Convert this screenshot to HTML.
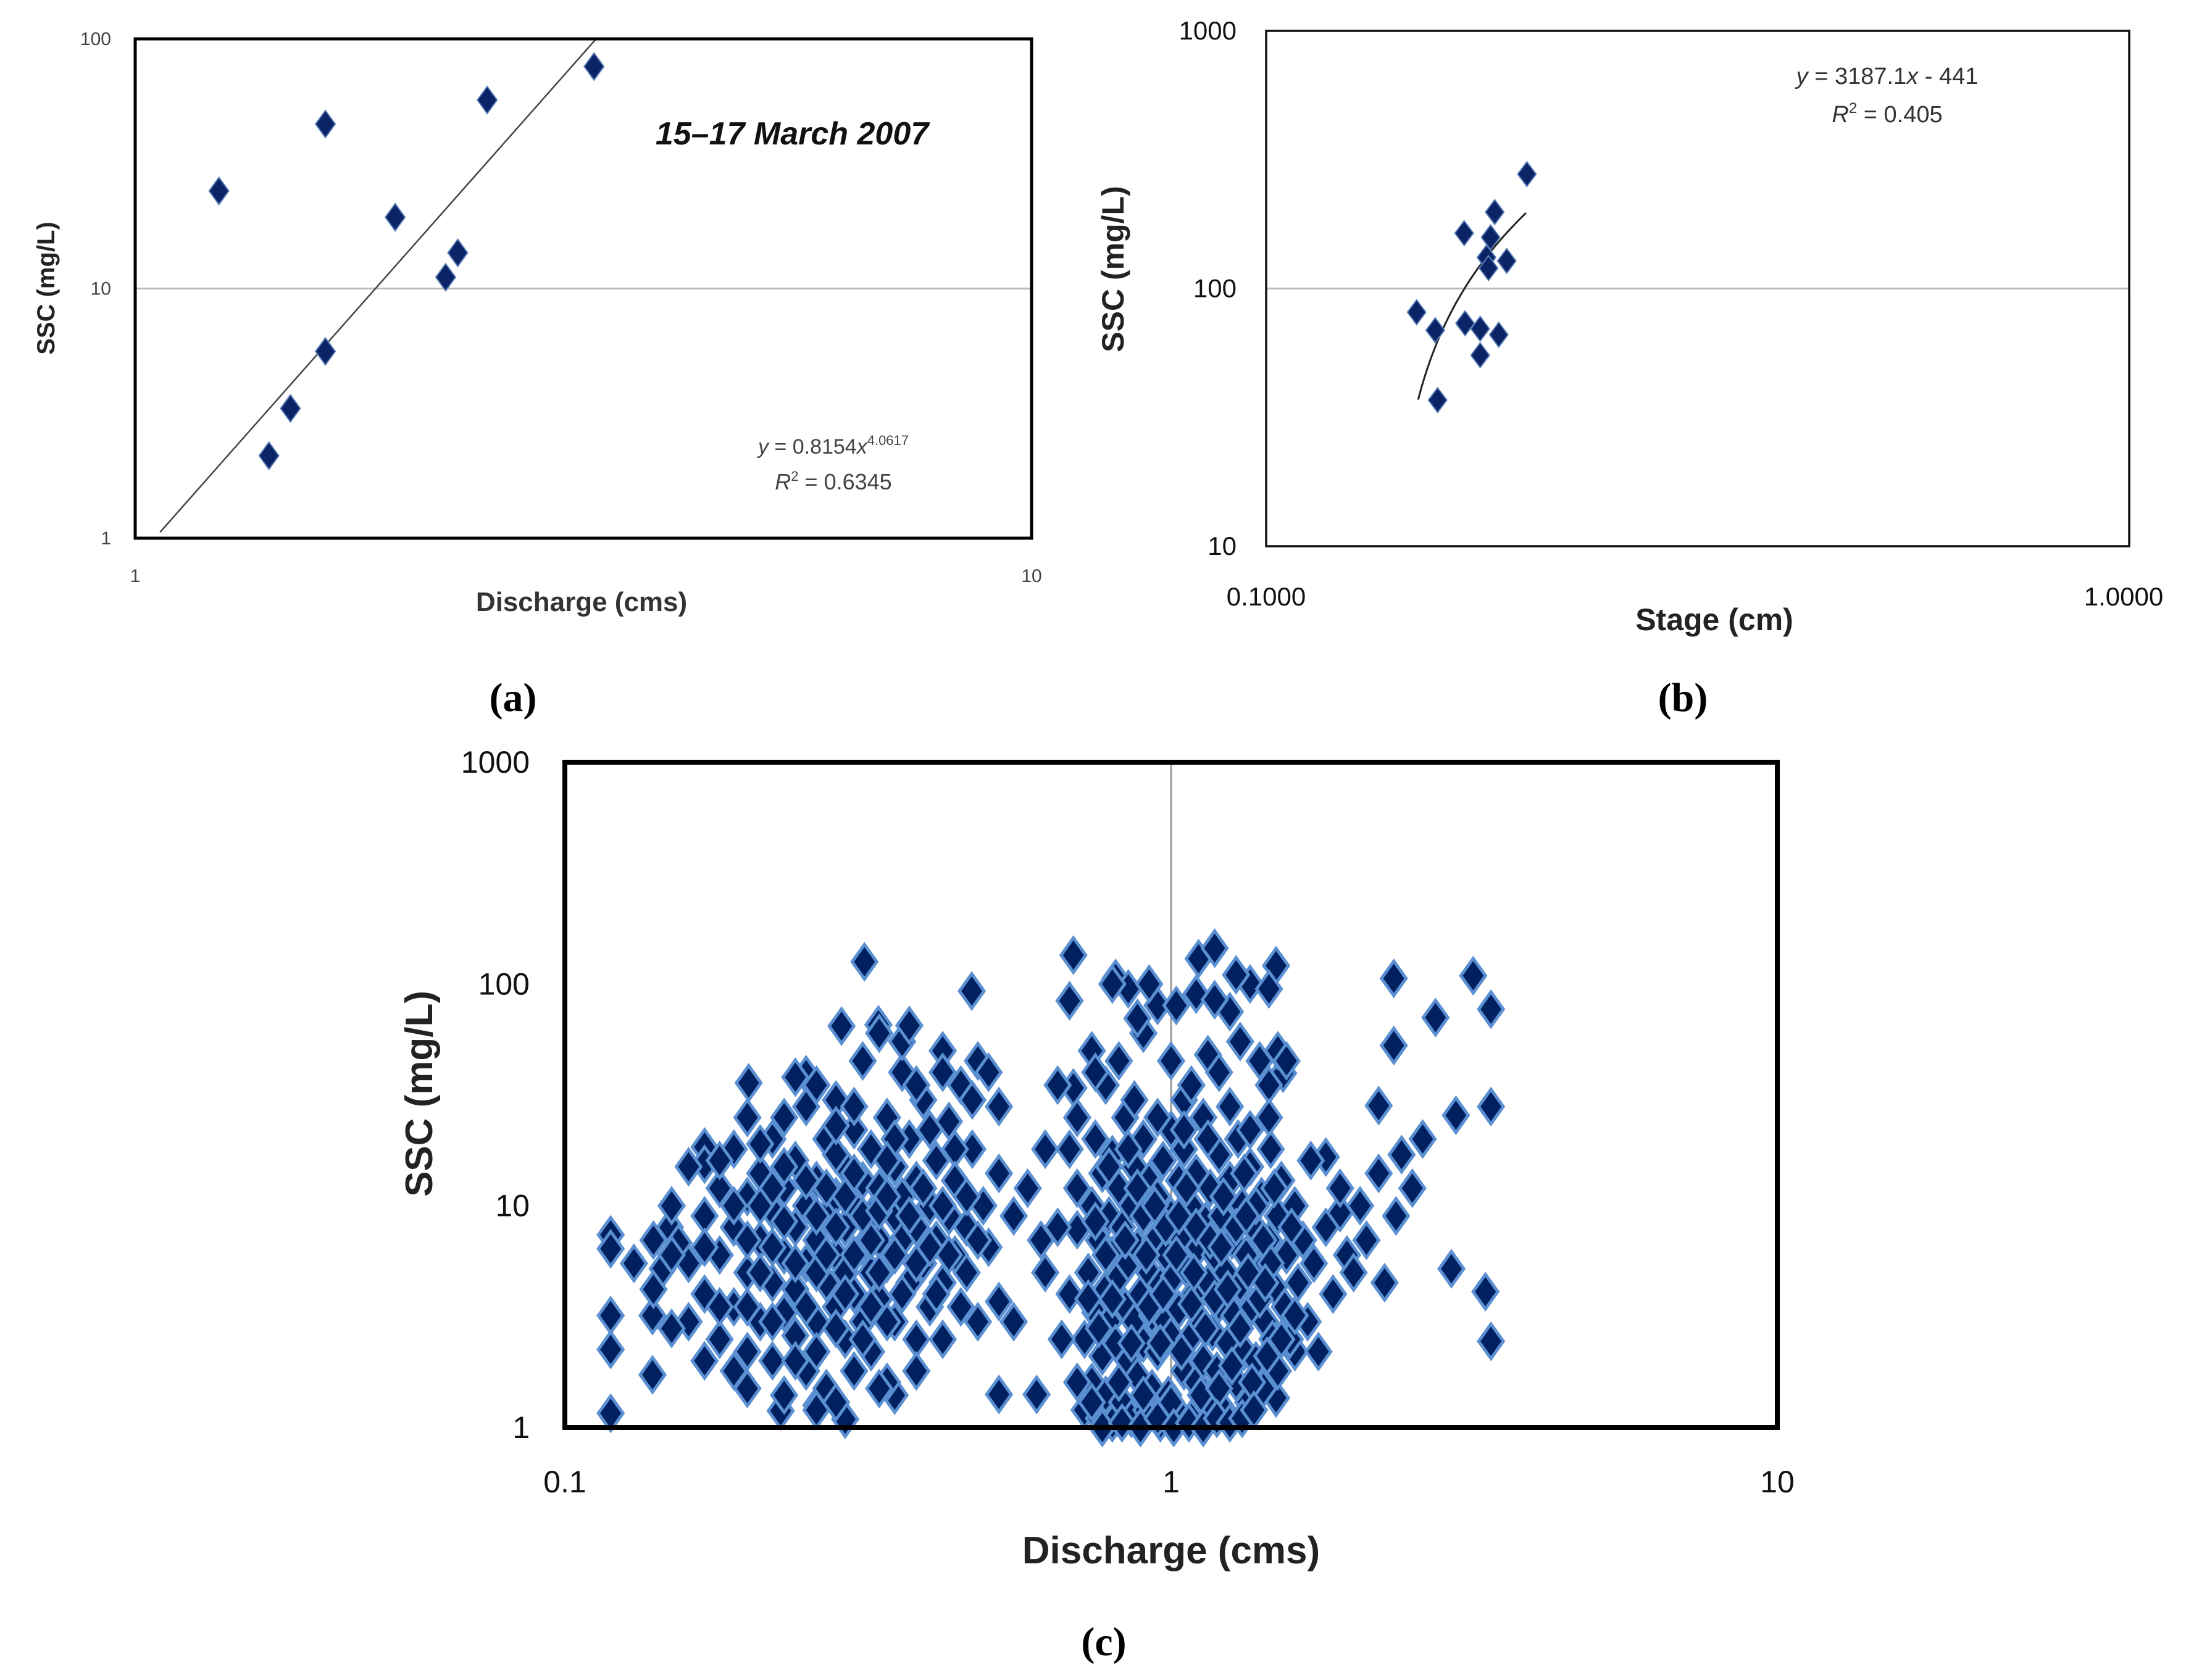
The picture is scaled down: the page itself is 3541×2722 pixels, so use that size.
<!DOCTYPE html>
<html><head><meta charset="utf-8"><style>
html,body{margin:0;padding:0;background:#fff;}
svg{display:block;font-family:"Liberation Sans",sans-serif;}
</style></head><body>
<svg id="fig" width="3541" height="2722" viewBox="0 0 3541 2722" xmlns="http://www.w3.org/2000/svg">
<rect width="3541" height="2722" fill="#fff"/>
<g id="pa"></g>
<g id="pb"></g>
<g id="pc"></g>
<text x="831" y="1152" font-family="Liberation Serif" font-weight="bold" font-size="66" text-anchor="middle">(a)</text>
<text x="2726" y="1152" font-family="Liberation Serif" font-weight="bold" font-size="66" text-anchor="middle">(b)</text>
<text x="1788" y="2682" font-family="Liberation Serif" font-weight="bold" font-size="66" text-anchor="middle">(c)</text>
</svg>
<script>
// ---- Panel a data ----
const aDischarge = [1.24,1.63,1.41,1.49,1.63,1.95,2.22,2.29,2.47,3.25];
const aSSC = [24.6,45.6,2.14,3.31,5.6,19.3,11.1,13.9,56.9,77.5];
const aXTicks = [1,10];
const aYTicks = [1,10,100];
const aFit = {coef:0.8154, exp:4.0617, xmin:1.066, xmax:3.27};
// ---- Panel b data ----
const bStage = [0.1494,0.157,0.158,0.1696,0.170,0.177,0.177,0.180,0.181,0.184,0.182,0.186,0.190,0.2005];
const bSSC = [80.9,68.9,36.9,164,73.3,69.8,55.1,132,120,198,158,66.2,128,278];
const bXTicks = ["0.1000","1.0000"];
const bYTicks = [10,100,1000];
const bFit = {slope:3187.1, icpt:-441, xmin:0.15, xmax:0.2};
// ---- Panel c data ----
const cDischarge = [0.119,0.119,0.119,0.119,0.119,0.1395,0.1395,0.145,0.149,0.154,0.170,0.170,0.201,0.312,0.286,0.329,0.25,0.469,0.26,0.227,0.29,0.35,0.52,0.6,0.52,0.61,0.70,0.69,0.69,0.68,0.81,1.11,1.18,1.49,2.33,3.15,3.37,3.37,3.37,3.3,2.9,2.95,2.2,2.73,2.33,1.53,1.8,1.9,1.6,1.49,
0.16,0.16,0.17,0.17,0.18,0.18,0.18,0.19,0.19,0.19,0.20,0.20,0.20,0.20,0.20,0.21,0.21,0.21,0.22,0.22,0.22,0.22,0.23,0.23,0.23,0.23,0.24,0.24,0.24,0.24,0.25,0.25,0.25,0.25,0.26,0.26,0.26,0.26,0.27,0.27,0.27,0.27,0.28,0.28,0.28,0.28,0.29,0.29,0.29,0.29,0.30,0.30,0.30,0.30,0.31,0.31,0.31,0.32,0.32,0.32,0.32,0.33,0.33,0.33,0.34,0.34,0.34,0.35,0.35,0.35,0.36,0.36,0.36,0.37,0.37,0.38,0.38,0.38,0.39,0.39,0.40,0.40,0.41,0.41,0.42,0.42,0.43,0.43,0.44,0.45,0.45,0.46,0.46,0.47,0.48,0.48,0.49,0.50,0.50,0.52,0.52,0.55,0.13,0.14,0.14,0.15,0.15,0.15,0.16,0.17,0.18,0.19,0.21,0.23,0.26,0.28,0.30,0.31,0.33,0.36,0.38,0.40,0.44,0.47,0.37,0.42,0.24,0.26,0.28,0.33,0.38,0.42,0.45,0.55,0.58,0.62,0.62,0.65,
0.72,0.72,0.73,0.74,0.74,0.75,0.75,0.76,0.76,0.77,0.77,0.78,0.78,0.79,0.79,0.8,0.8,0.8,0.81,0.82,0.82,0.83,0.83,0.84,0.84,0.85,0.85,0.86,0.86,0.87,0.87,0.88,0.88,0.89,0.9,0.9,0.9,0.91,0.92,0.92,0.93,0.93,0.94,0.95,0.95,0.96,0.96,0.97,0.98,0.98,0.99,1.0,1.0,1.0,1.01,1.02,1.03,1.03,1.04,1.05,1.05,1.06,1.07,1.08,1.08,1.09,1.1,1.1,1.11,1.12,1.13,1.13,1.14,1.15,1.15,1.16,1.17,1.18,1.19,1.2,1.2,1.21,1.22,1.23,1.24,1.25,1.26,1.27,1.28,1.29,1.3,1.31,1.32,1.33,1.34,1.35,1.36,1.37,1.38,1.4,1.41,1.42,1.43,1.45,1.46,1.47,1.48,1.5,1.5,1.52,1.54,1.55,1.57,1.6,1.62,1.65,1.68,1.7,1.72,1.75,1.8,1.85,1.9,1.95,2.0,2.05,2.1,2.2,2.25,2.35,2.4,2.5,2.6,0.78,0.82,0.9,0.95,1.0,1.05,1.1,1.15,1.2,1.25,1.3,1.35,1.4,1.45,1.5,1.55,0.85,0.88,1.02,1.18,0.74,0.7,0.65,0.68,0.7,0.68,0.66,0.7,0.75,0.8,0.92,1.28,1.45,0.87,1.08,
0.74,0.76,0.78,0.8,0.82,0.84,0.86,0.88,0.9,0.92,0.94,0.96,0.98,1.0,1.02,1.04,1.06,1.08,1.1,1.12,1.14,1.16,1.18,1.2,1.22,1.24,1.26,1.28,1.3,1.32,1.34,1.36,1.38,1.4,1.42,1.44,1.46,1.48,0.79,0.85,0.95,1.05,1.15,1.25,1.35,1.45,0.77,0.83,0.89,0.95,1.01,1.07,1.13,1.19,1.25,1.31,1.37,0.73,0.75,0.91,0.97,1.03,1.09,1.21,1.33,1.43,1.52,1.58,1.6,
0.17,0.18,0.19,0.2,0.2,0.21,0.21,0.22,0.22,0.23,0.23,0.24,0.24,0.25,0.25,0.26,0.26,0.27,0.27,0.28,0.28,0.29,0.29,0.3,0.3,0.31,0.31,0.32,0.32,0.33,0.33,0.34,0.34,0.35,0.35,0.36,0.37,0.38,0.39,0.4,0.41,0.42,0.43,0.44,0.46,0.48,0.34,0.28,0.22];
const cSSC = [7.4,6.4,3.2,2.25,1.16,1.73,3.2,5.2,8.0,6.8,18.4,15.4,35.8,126,64.6,65.5,39,93,1.26,1.19,1.09,1.4,1.41,1.41,3.7,7.0,7.8,34,135,84,106,130,145,121,106,109,77,28,2.45,4.1,5.2,25.6,28.3,70.6,52.8,39.6,16.6,9.3,2.2,1.36,
3.0,5.5,9,4,2.5,6,12,3.5,8,18,1.5,2.2,5,11,25,3,7,14,4.5,2,9.5,20,1.4,6,3.3,12,2.6,8,4.2,16,1.8,5.5,10,28,3.0,7,13,2.2,4.5,9,20,1.5,6,3.5,11,30,2.5,8,15,5,4,10,1.8,22,6.5,3,13,9,2.2,5,18,7,12,3.8,25,5.5,1.6,9,15,3,7,40,11,4.5,20,8,2.5,13,5.5,30,10,3.5,7,16,50,4.5,9,24,6,12,35,5,8,18,45,3,10,6.5,40,14,28,9,5.5,4.2,7,2.8,6,10,15,2.0,16,1.8,19,25,35,17,28,45,60,55,35,22,18,30,65,40,38,1.2,1.3,1.5,1.8,2.5,3.5,3.0,12,18,5,8,
1.2,2.5,5,1.6,10,3.3,20,1.1,7,2.1,14,4.2,1.4,9,3,1.05,6,17,2.4,4.8,12,1.3,8,3.5,25,2,5.5,10,1.1,3,15,6.5,1.7,4,2.4,9,20,1.2,5,13,3.2,1.5,7,2.2,11,4.4,1.05,16,3,6,1.4,9,2.6,22,4.8,1.2,13,3.4,7,1.8,18,5.2,2.5,10,1.1,4,14,1.6,6.5,3,25,2,8.5,1.3,4.5,12,2.7,6,1.8,17,3.6,9,1.2,5,2.4,13,7,3.2,1.6,20,4.4,10,2.2,6,1.3,15,3.5,8,2,5,11,1.5,3,7,18,2.5,4.3,9,1.8,13,3.5,6,2.5,10,4.5,7,3,16,5.5,2.2,8,4,12,6,5,10,7,14,4.5,9,17,12,20,35,45,60,80,45,30,90,48,40,75,55,100,45,35,50,45,95,70,80,85,50,25,35,18,12,4,2.5,1.6,40,100,100,110,95,30,35,
1.3,2.8,6,3.8,1.6,7,2.4,12,1.4,3.5,10,2.4,8,1.3,6,2.2,12,3.6,8,1.4,2.8,7,3.8,1.5,11,4.2,1.9,8,2.8,14,5,1.6,10,3.8,7,2.1,5.5,12,15,18,25,22,20,28,22,25,1.0,1.05,1.0,1.1,1.0,1.05,1.0,1.1,1.05,1.1,1.2,3.8,8.5,6,4,9,5,6.5,9,4.5,2.5,8,3.2,
6.5,3.5,10,7,3.5,5,10,3,6.5,8.5,15,5.5,2,3.5,13,5,9,6,12,2.8,8,4,11,6,14,2.5,9,7,3.5,5,9.5,3,11,6,20,4,9,5.5,12,6.5,4,10,6,13,11,7,16,23,12];
const cXTicks = ["0.1","1","10"];
const cYTicks = [1,10,100,1000];

const NS="http://www.w3.org/2000/svg";
function mk(parent, tag, attrs, txt){const e=document.createElementNS(NS,tag);for(const k in attrs)e.setAttribute(k,attrs[k]);if(txt!==undefined)e.textContent=txt;parent.appendChild(e);return e;}
function logScale(d0,d1,r0,r1){const a=Math.log10(d0),b=Math.log10(d1);return v=>r0+(Math.log10(v)-a)/(b-a)*(r1-r0);}
function diamond(x,y,w,h){return `M${x},${y-h}L${x+w},${y}L${x},${y+h}L${x-w},${y}Z`;}

// ---------- Panel A ----------
(function(){
const g=document.getElementById('pa');
const L=219,R=1671,T=63,B=872;
const sx=logScale(1,10,L,R), sy=logScale(1,100,B,T);
let e=mk(g,'line',{x1:L,x2:R,y1:sy(10),y2:sy(10),stroke:'#bbb','stroke-width':3});


const fx=[aFit.xmin,aFit.xmax];
e=mk(g,'line',{x1:sx(fx[0]),y1:sy(aFit.coef*Math.pow(fx[0],aFit.exp)),x2:sx(fx[1]),y2:sy(aFit.coef*Math.pow(fx[1],aFit.exp)),stroke:'#444','stroke-width':2.5});


aDischarge.forEach((v,i)=>{
 const p=mk(g,'path',{d:diamond(sx(v),sy(aSSC[i]),16,22),fill:'#0a2466',stroke:'#5b7fb8','stroke-width':2});
 
 
});
e=mk(g,'rect',{x:L,y:T,width:R-L,height:B-T,fill:'none',stroke:'#000','stroke-width':5});


aYTicks.forEach(t=>{const s=mk(g,'text',{x:180,y:sy(t)+10,'font-size':30,'text-anchor':'end',fill:'#444'},String(t));
 
 });
aXTicks.forEach(t=>{const s=mk(g,'text',{x:sx(t),y:943,'font-size':30,'text-anchor':'middle',fill:'#444'},String(t));
 
 });
e=mk(g,'text',{x:942,y:990,'font-size':44,'font-weight':'bold','text-anchor':'middle',fill:'#333'},'Discharge (cms)');


e=mk(g,'text',{x:0,y:0,'font-size':40,'font-weight':'bold','text-anchor':'middle',fill:'#222',transform:'translate(88,467) rotate(-90)'},'SSC (mg/L)');


e=mk(g,'text',{x:1283,y:234,'font-size':52,'font-weight':'bold','font-style':'italic','text-anchor':'middle',fill:'#111'},'15–17 March 2007');


e=mk(g,'text',{x:1350,y:735,'font-size':34,'text-anchor':'middle',fill:'#444'});
e.innerHTML='<tspan font-style="italic">y</tspan> = 0.8154<tspan font-style="italic">x</tspan><tspan font-size="22" dy="-14">4.0617</tspan>';


e=mk(g,'text',{x:1350,y:793,'font-size':36,'text-anchor':'middle',fill:'#444'});
e.innerHTML='<tspan font-style="italic">R</tspan><tspan font-size="22" dy="-14">2</tspan><tspan dy="14"> = 0.6345</tspan>';


})();

// ---------- Panel B ----------
(function(){
const g=document.getElementById('pb');
const L=2051,R=3449,T=50,B=885;
const sx=logScale(0.1,1,L,R), sy=logScale(10,1000,B,T);
let e=mk(g,'line',{x1:L,x2:R,y1:sy(100),y2:sy(100),stroke:'#bbb','stroke-width':3});


let d='';
for(let i=0;i<=40;i++){const x=bFit.xmin+(bFit.xmax-bFit.xmin)*i/40;d+=(i?'L':'M')+sx(x).toFixed(1)+','+sy(bFit.slope*x+bFit.icpt).toFixed(1);}
e=mk(g,'path',{d:d,fill:'none',stroke:'#222','stroke-width':3});


bStage.forEach((v,i)=>{
 const p=mk(g,'path',{d:diamond(sx(v),sy(bSSC[i]),15,20),fill:'#0a2466',stroke:'#5b7fb8','stroke-width':2});
 
 
});
e=mk(g,'rect',{x:L,y:T,width:R-L,height:B-T,fill:'none',stroke:'#111','stroke-width':3.5});


bYTicks.forEach(t=>{const s=mk(g,'text',{x:2003,y:sy(t)+14,'font-size':42,'text-anchor':'end',fill:'#111'},String(t));
 
 });
bXTicks.forEach(t=>{const s=mk(g,'text',{x:Math.min(sx(parseFloat(t)),3440),y:981,'font-size':42,'text-anchor':'middle',fill:'#111'},t);
 
 });
e=mk(g,'text',{x:2777,y:1021,'font-size':50,'font-weight':'bold','text-anchor':'middle',fill:'#222'},'Stage (cm)');


e=mk(g,'text',{x:0,y:0,'font-size':50,'font-weight':'bold','text-anchor':'middle',fill:'#222',transform:'translate(1820,436) rotate(-90)'},'SSC (mg/L)');


e=mk(g,'text',{x:3057,y:136,'font-size':38,'text-anchor':'middle',fill:'#333'});
e.innerHTML='<tspan font-style="italic">y</tspan> = 3187.1<tspan font-style="italic">x</tspan> - 441';


e=mk(g,'text',{x:3057,y:198,'font-size':38,'text-anchor':'middle',fill:'#333'});
e.innerHTML='<tspan font-style="italic">R</tspan><tspan font-size="24" dy="-15">2</tspan><tspan dy="15"> = 0.405</tspan>';


})();

// ---------- Panel C ----------
(function(){
const g=document.getElementById('pc');
const L=915,R=2879,T=1235,B=2313;
const sx=logScale(0.1,10,L,R), sy=logScale(1,1000,B,T);
let e=mk(g,'line',{x1:sx(1),x2:sx(1),y1:T,y2:B,stroke:'#999','stroke-width':3});


cDischarge.forEach((v,i)=>{
 const p=mk(g,'path',{d:diamond(sx(v),sy(cSSC[i]),20,28),fill:'#002060',stroke:'#5a8fd2','stroke-width':5});
 
 
});
e=mk(g,'rect',{x:L,y:T,width:R-L,height:B-T,fill:'none',stroke:'#000','stroke-width':8});


cYTicks.forEach(t=>{const s=mk(g,'text',{x:858,y:sy(t)+17,'font-size':50,'text-anchor':'end',fill:'#111'},String(t));
 
 });
cXTicks.forEach(t=>{const s=mk(g,'text',{x:sx(parseFloat(t)),y:2418,'font-size':50,'text-anchor':'middle',fill:'#111'},t);
 
 });
e=mk(g,'text',{x:1897,y:2533,'font-size':62,'font-weight':'bold','text-anchor':'middle',fill:'#222'},'Discharge (cms)');


e=mk(g,'text',{x:0,y:0,'font-size':62,'font-weight':'bold','text-anchor':'middle',fill:'#222',transform:'translate(700,1772) rotate(-90)'},'SSC (mg/L)');


})();
</script>
</body></html>
